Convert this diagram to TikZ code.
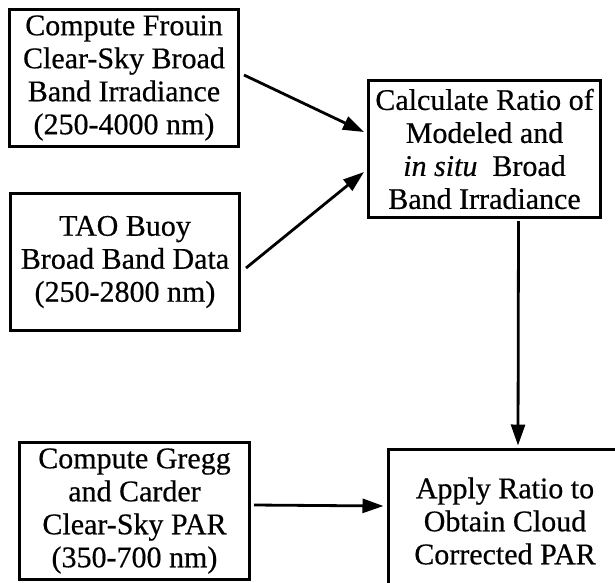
\documentclass[tikz,border=0pt]{standalone}
\usepackage{fontspec}
\setmainfont{Liberation Serif}[FakeBold=0.5]
\usetikzlibrary{arrows.meta}
\begin{document}
\begin{tikzpicture}[x=1pt,y=-1pt,
  box/.style={draw,line width=3pt,align=center,inner sep=0pt,
    font=\fontsize{30}{33}\selectfont},
  conn/.style={line width=2.8pt,-{Triangle[length=21pt,width=14pt]}}]
\useasboundingbox (0,0) rectangle (615,582);
\node[box,minimum width=229pt,minimum height=137pt] (A) at (124,78)
  {Compute Frouin\\Clear-Sky Broad\\Band Irradiance\\(250-4000 nm)};
\node[box,minimum width=229pt,minimum height=137pt] (B) at (125,262)
  {TAO Buoy\\Broad Band Data\\(250-2800 nm)};
\node[box,minimum width=232pt,minimum height=137pt] (C) at (484.5,149)
  {Calculate Ratio of\\Modeled and\\\textit{in situ}\ \ Broad\\Band Irradiance};
\node[box,minimum width=230pt,minimum height=137pt] (D) at (134.5,511)
  {Compute Gregg\\and Carder\\Clear-Sky PAR\\(350-700 nm)};
\node[box,minimum width=234pt,minimum height=144pt] (E) at (505,521)
  {Apply Ratio to\\Obtain Cloud\\Corrected PAR};
\draw[conn] ([xshift=4pt,yshift=3pt]A.east) -- ([xshift=-3pt,yshift=17pt]C.west);
\draw[conn] ([xshift=5pt,yshift=-6pt]B.east) -- ([xshift=-3pt,yshift=-23pt]C.west);
\draw[conn] ([xshift=34pt,yshift=-2pt]C.south) -- ([xshift=13pt,yshift=2pt]E.north);
\draw[conn] ([xshift=3pt,yshift=6pt]D.east) -- ([xshift=-3pt,yshift=15pt]E.west);
\end{tikzpicture}
\end{document}
